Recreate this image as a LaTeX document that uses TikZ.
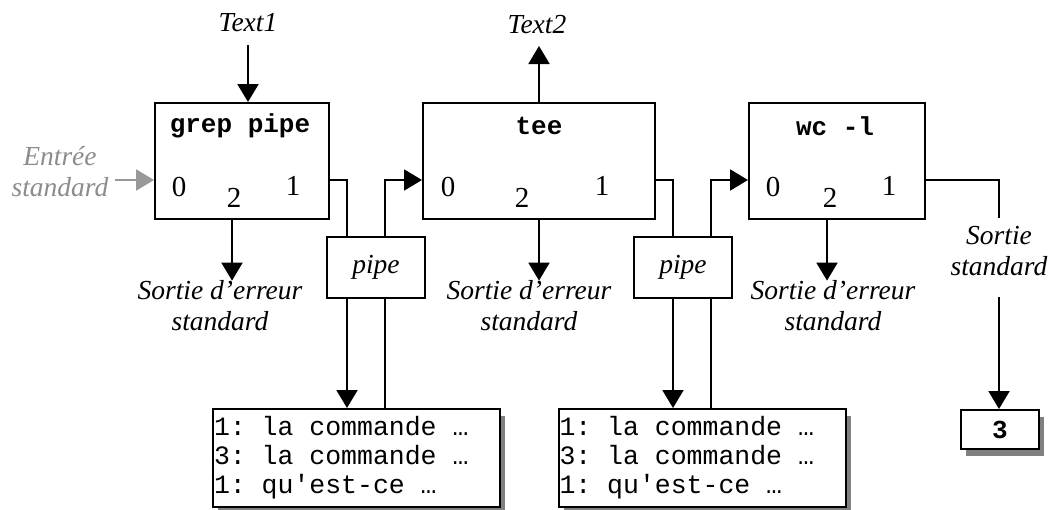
\documentclass[tikz,border=0pt]{standalone}
\usepackage{fontspec}
\setmainfont{Liberation Serif}
\setmonofont{Liberation Mono}
\usetikzlibrary{arrows.meta,shadows}
\newcommand{\msp}{\hspace*{0.6em}}
\begin{document}
\begin{tikzpicture}[x=1pt,y=-1pt,
  conn/.style={line width=2pt},
  arr/.style={line width=2pt,-{Triangle[length=18pt,width=21pt]}},
  garr/.style={line width=2pt,draw=black!40,-{Triangle[length=18pt,width=21pt]}},
  procbox/.style={draw,line width=2pt,minimum height=116pt,inner sep=0pt},
  pipebox/.style={draw,line width=2pt,minimum width=98pt,minimum height=61pt,inner sep=0pt,font=\fontsize{27.5}{31}\selectfont\itshape},
  lbl/.style={font=\fontsize{27.5}{31}\selectfont\itshape,align=center,inner sep=0pt},
  glbl/.style={lbl,text=black!45},
  port/.style={font=\fontsize{29}{29}\selectfont,inner sep=0pt},
  ttl/.style={font=\fontsize{26}{26}\selectfont\ttfamily\bfseries,inner sep=0pt},
  shad/.style={drop shadow={shadow xshift=5pt,shadow yshift=-7pt,fill=black!50,opacity=1}},
  filebox/.style={draw,line width=2pt,fill=white,shad,font=\fontsize{26.5}{29}\selectfont\ttfamily,align=left,inner sep=1pt,text width=285pt,minimum height=98pt}
]
\useasboundingbox (0,0) rectangle (1051,509);

% process boxes
\node[procbox,minimum width=174pt] (grep) at (242,161) {};
\node[procbox,minimum width=232pt] (tee) at (539,161) {};
\node[procbox,minimum width=176pt] (wc) at (837,161) {};

\node[ttl] (tgrep) at (240,126) {grep pipe};
\node[ttl] (ttee) at (539,126) {tee};
\node[ttl] (twc) at (835,126) {wc -l};

\node[port] (g0) at (179,187) {0};
\node[port] (g2) at (234,198) {2};
\node[port] (g1) at (293,186) {1};
\node[port] (t0) at (448,187) {0};
\node[port] (t2) at (522,198) {2};
\node[port] (t1) at (602,186) {1};
\node[port] (w0) at (773,187) {0};
\node[port] (w2) at (830,198) {2};
\node[port] (w1) at (889,186) {1};

% pipes
\node[pipebox] (pipe1) at (376,267.5) {pipe};
\node[pipebox] (pipe2) at (683,267) {pipe};

% files
\node[filebox] (file1) at (356.5,458) {1:\msp la\msp commande\msp …\\3:\msp la\msp commande\msp …\\1:\msp qu'est-ce\msp …};
\node[filebox] (file2) at (702,458) {1:\msp la\msp commande\msp …\\3:\msp la\msp commande\msp …\\1:\msp qu'est-ce\msp …};
\node[draw,line width=2pt,fill=white,shad,minimum width=78pt,minimum height=39pt,inner sep=0pt,font=\fontsize{26}{26}\selectfont\ttfamily\bfseries] (res) at (1000,429.5) {3};

% labels
\node[lbl] (text1) at (248,23) {Text1};
\node[lbl] (text2) at (537,25) {Text2};
\node[glbl] (entree) at (60,172) {Entrée\\standard};
\node[lbl] (err1) at (220,306) {Sortie d’erreur\\standard};
\node[lbl] (err2) at (529,306) {Sortie d’erreur\\standard};
\node[lbl] (err3) at (833,306) {Sortie d’erreur\\standard};
\node[lbl] (sout) at (999,251) {Sortie\\standard};

% port anchor coordinates
\coordinate (gin) at ([yshift=-19pt]grep.west);
\coordinate (gout) at ([yshift=-19pt]grep.east);
\coordinate (tin) at ([yshift=-19pt]tee.west);
\coordinate (tout) at ([yshift=-19pt]tee.east);
\coordinate (win) at ([yshift=-19pt]wc.west);
\coordinate (wout) at ([yshift=-19pt]wc.east);
\coordinate (p1a) at (347,0);
\coordinate (p1b) at (385,0);
\coordinate (p2a) at (673,0);
\coordinate (p2b) at (711,0);
\coordinate (xg) at (232,0);
\coordinate (xt) at (539,0);
\coordinate (xw) at (827,0);
\coordinate (xs) at (999,0);
\coordinate (xin) at (115,0);
\coordinate (ytop1) at (0,45);
\coordinate (ytop2) at (0,46);
\coordinate (ysa) at (0,218);
\coordinate (ysb) at (0,297);

% connectors
\draw[arr] (text1.south |- ytop1) -- (text1.south |- grep.north);
\draw[arr] (tee.north) -- (tee.north |- ytop2);
\draw[garr] (gin -| xin) -- (gin);

\draw[arr] (grep.south -| xg) -- (err1.north -| xg);
\draw[arr] (tee.south -| xt) -- (err2.north -| xt);
\draw[arr] (wc.south -| xw) -- (err3.north -| xw);

\draw[conn] (gout) -| (pipe1.north -| p1a);
\draw[arr] (pipe1.north -| p1b) |- (tin);
\draw[arr] (pipe1.south -| p1a) -- (file1.north -| p1a);
\draw[conn] (pipe1.south -| p1b) -- (file1.north -| p1b);

\draw[conn] (tout) -| (pipe2.north -| p2a);
\draw[arr] (pipe2.north -| p2b) |- (win);
\draw[arr] (pipe2.south -| p2a) -- (file2.north -| p2a);
\draw[conn] (pipe2.south -| p2b) -- (file2.north -| p2b);

\draw[conn] (wout) -| (ysa -| xs);
\draw[arr] (ysb -| xs) -- (res.north -| xs);
\end{tikzpicture}
\end{document}
